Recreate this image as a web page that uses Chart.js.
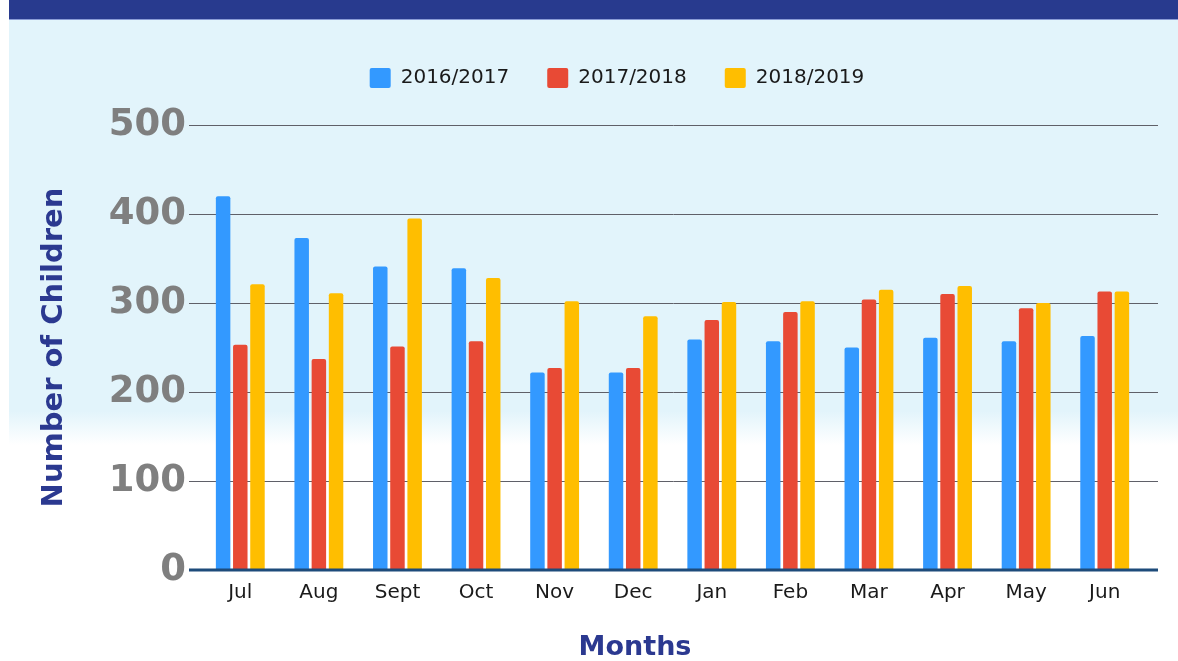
<!DOCTYPE html>
<html>
<head>
<meta charset="utf-8">
<title>Number of Children by Month</title>
<script src="https://cdn.jsdelivr.net/npm/chart.js@4"></script>
<style>
  html, body { margin: 0; padding: 0; background: #fff; }
  #wrap { position: relative; width: 1178px; height: 661px; overflow: hidden; }
  #band { position: absolute; left: 9px; top: 0; width: 1169px; height: 19px; background: #283A8E; border-bottom: 1px solid #8a9bd6; }
  #panel { position: absolute; left: 9px; top: 20px; width: 1169px; height: 425px;
           background: linear-gradient(to bottom, #E2F4FB 0%, #E2F4FB 92%, #ffffff 100%); }
  canvas { position: absolute; left: 0; top: 0; }
</style>
</head>
<body>
<div id="wrap">
  <div id="band"></div>
  <div id="panel"></div>
  <canvas id="myChart" width="1178" height="661"></canvas>
</div>
<script>
const months = ["Jul", "Aug", "Sept", "Oct", "Nov", "Dec", "Jan", "Feb", "Mar", "Apr", "May", "Jun"];
const seasons = ["2016/2017", "2017/2018", "2018/2019"];
const children1617 = [420, 373, 341, 339, 222, 222, 259, 257, 250, 261, 257, 263];
const children1718 = [253, 237, 251, 257, 227, 227, 281, 290, 304, 310, 294, 313];
const children1819 = [321, 311, 395, 328, 302, 285, 301, 302, 315, 319, 300, 313];
const yTicks = [0, 100, 200, 300, 400, 500];

const colors = ["#3399FF", "#E84A35", "#FFBE00"];
const navy = "#2B3990";

// horizontal rules run a little past the plot on both sides, heavy base line at 0
const gridLines = {
    id: "gridLines",
    beforeDatasetsDraw(chart) {
        let {ctx, chartArea: a, scales: {y}} = chart;
        ctx.save();
        ctx.lineWidth = 1;
        ctx.strokeStyle = "#5f6068";
        y.ticks.forEach(t => {
            if (t.value === 0) return;
            let py = Math.round(y.getPixelForValue(t.value)) + 0.5;
            ctx.beginPath();
            ctx.moveTo(a.left - 12, py);
            ctx.lineTo(a.right + 14, py);
            ctx.stroke();
        });
        ctx.restore();
    },
    afterDatasetsDraw(chart) {
        let {ctx, chartArea: a, scales: {y}} = chart;
        let py = y.getPixelForValue(0);
        ctx.save();
        ctx.lineWidth = 3;
        ctx.strokeStyle = "#1D4B7A";
        ctx.beginPath();
        ctx.moveTo(a.left - 12, py);
        ctx.lineTo(a.right + 14, py);
        ctx.stroke();
        ctx.restore();
    }
};

// extra room under the legend, and legend/title sit right of centre
const nudge = {
    id: "nudge",
    beforeLayout(chart) {
        let lg = chart.legend;
        if (lg && !lg._gap) {
            let fit = lg.fit;
            lg.fit = function () { fit.call(this); this.height += 27; };
            lg._gap = true;
        }
    },
    afterLayout(chart) {
        chart.legend.left += 30;
        chart.legend.right += 30;
        chart.titleBlock.left += 48;
        chart.titleBlock.right += 48;
    }
};

let el = document.getElementById("myChart");
new Chart(el, {
    type: "bar",
    data: {
        labels: months,
        datasets: [children1617, children1718, children1819].map((d, i) => ({
            label: seasons[i],
            data: d,
            backgroundColor: colors[i],
            borderWidth: 0,
            borderRadius: 2,
            categoryPercentage: 0.656,
            barPercentage: 0.843
        }))
    },
    options: {
        responsive: false,
        animation: false,
        devicePixelRatio: 1,
        layout: { padding: { left: 30, right: 34, top: 30, bottom: 0 } },
        plugins: {
            tooltip: { enabled: false },
            legend: {
                position: "top",
                labels: {
                    boxWidth: 21,
                    boxHeight: 20,
                    useBorderRadius: true,
                    borderRadius: 2,
                    padding: 38,
                    color: "#1a1a1a",
                    font: { family: "DejaVu Sans", size: 20 }
                }
            },
            title: {
                display: true,
                text: "Months",
                position: "bottom",
                color: navy,
                font: { family: "DejaVu Sans", size: 27, weight: "bold", lineHeight: 1 },
                padding: { top: 29, bottom: 0 }
            }
        },
        scales: {
            x: {
                grid: { display: false, drawTicks: false },
                border: { display: false },
                afterFit: s => { s.height = 35; },
                ticks: {
                    padding: 11,
                    color: "#1a1a1a",
                    font: { family: "DejaVu Sans", size: 20 }
                }
            },
            y: {
                min: 0,
                max: 500,
                afterBuildTicks: s => { s.ticks = yTicks.map(v => ({ value: v })); },
                afterFit: s => { s.width = 171; },
                grid: { display: false, drawTicks: true, tickLength: 12 },
                border: { display: false },
                ticks: {
                    padding: 3,
                    color: "#7f7f7f",
                    font: { family: "DejaVu Sans", size: 37, weight: "bold" }
                },
                title: {
                    display: true,
                    text: "Number of Children",
                    color: navy,
                    font: { family: "DejaVu Sans", size: 29, weight: "bold" },
                    padding: { top: 7, bottom: 0 }
                }
            }
        }
    },
    plugins: [gridLines, nudge]
});
</script>
</body>
</html>
